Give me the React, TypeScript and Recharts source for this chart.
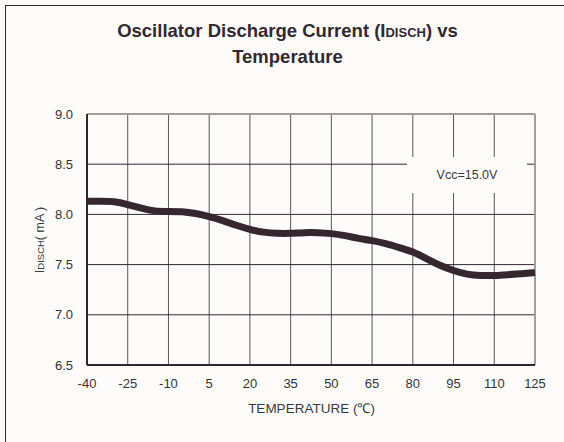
import { LineChart, Line, XAxis, YAxis, CartesianGrid, ReferenceLine } from "recharts";

// temperature (°C) and discharge current (mA)
const temps = [
  -40, -35, -30, -25, -20, -15, -10, -5, 0, 5, 10, 15, 20, 25, 30, 35, 40, 45, 50,
  55, 60, 65, 70, 75, 80, 85, 90, 95, 100, 105, 110, 115, 120, 125,
];
const idisch = [
  8.13, 8.13, 8.13, 8.1, 8.06, 8.03, 8.03, 8.03, 8.01, 7.98, 7.94, 7.89, 7.85, 7.82,
  7.81, 7.81, 7.82, 7.82, 7.81, 7.79, 7.76, 7.74, 7.71, 7.67, 7.63, 7.56, 7.49, 7.44,
  7.4, 7.39, 7.39, 7.4, 7.41, 7.42,
];
const xTicks = [-40, -25, -10, 5, 20, 35, 50, 65, 80, 95, 110, 125];
const yTicks = [6.5, 7.0, 7.5, 8.0, 8.5, 9.0];

const data = temps.map((t, i) => ({ temp: t, current: idisch[i] }));

const font = "'Liberation Sans', Arial, Helvetica, sans-serif";
const ink = "#322830";

export default function App() {
  return (
    <div
      style={{
        position: "absolute",
        left: 0,
        top: 0,
        width: 564,
        height: 442,
        background: "#fdfcfb",
        fontFamily: font,
        overflow: "hidden",
      }}
    >
      {/* outer frame, only left & top edges visible */}
      <div
        style={{
          position: "absolute",
          left: 5,
          top: 5,
          width: 600,
          height: 480,
          borderLeft: `1.5px solid ${ink}`,
          borderTop: `1.5px solid ${ink}`,
        }}
      />
      <div
        style={{
          position: "absolute",
          left: 0,
          width: 575,
          top: 19,
          textAlign: "center",
          fontWeight: "bold",
          fontSize: 18.5,
          lineHeight: "24px",
          color: ink,
        }}
      >
        Oscillator Discharge Current (I<span style={{ fontSize: 13 }}>DISCH</span>) vs
        <br />
        Temperature
      </div>

      <LineChart
        width={564}
        height={442}
        data={data}
        margin={{ top: 114, right: 29, bottom: 47, left: 0 }}
        style={{ position: "absolute", left: 0, top: 0, fontFamily: font }}
      >
        <CartesianGrid horizontal={false} stroke="#5a5458" strokeWidth={1} />
        <CartesianGrid vertical={false} stroke={ink} strokeWidth={1} />
        <XAxis
          dataKey="temp"
          type="number"
          domain={[-40, 125]}
          ticks={xTicks}
          interval={0}
          height={30}
          tickSize={0}
          tickMargin={14}
          axisLine={{ stroke: ink, strokeWidth: 2 }}
          tick={{ fill: "#333", fontSize: 13 }}
        />
        <YAxis
          type="number"
          domain={[6.5, 9]}
          ticks={yTicks}
          interval={0}
          width={87}
          tickSize={0}
          tickMargin={14}
          tickFormatter={(v: number) => v.toFixed(1)}
          axisLine={{ stroke: ink, strokeWidth: 2 }}
          tick={{ fill: "#333", fontSize: 13 }}
        />
        <ReferenceLine y={9} stroke="#a39d9b" strokeWidth={2} />
        <ReferenceLine x={125} stroke="#a39d9b" strokeWidth={2} />
        <Line
          type="basis"
          dataKey="current"
          stroke="#352630"
          strokeWidth={7}
          dot={false}
          isAnimationActive={false}
        />
      </LineChart>

      {/* condition label */}
      <div
        style={{
          position: "absolute",
          left: 407,
          top: 157,
          width: 120,
          height: 36,
          background: "#fdfcfb",
          color: "#3a3a3a",
          fontSize: 12.5,
          lineHeight: "36px",
          textAlign: "center",
        }}
      >
        Vcc=15.0V
      </div>

      {/* y axis title */}
      <div
        style={{
          position: "absolute",
          left: 40,
          top: 240,
          transform: "translate(-50%, -50%) rotate(-90deg)",
          whiteSpace: "nowrap",
          fontSize: 12.5,
          color: "#3a3a3a",
        }}
      >
        I<span style={{ fontSize: 9.5 }}>DISCH</span>( mA )
      </div>

      {/* x axis title */}
      <div
        style={{
          position: "absolute",
          left: 0,
          width: 623,
          top: 401,
          textAlign: "center",
          fontSize: 13.5,
          lineHeight: "16px",
          color: "#3a3a3a",
        }}
      >
        TEMPERATURE (℃)
      </div>
    </div>
  );
}
